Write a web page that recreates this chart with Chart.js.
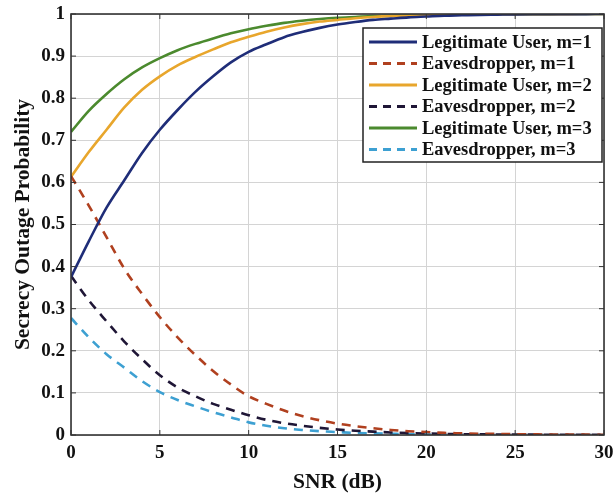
<!DOCTYPE html>
<html>
<head>
<meta charset="utf-8">
<script src="https://cdn.jsdelivr.net/npm/chart.js@4.4.1/dist/chart.umd.min.js"></script>
<style>
html,body{margin:0;padding:0;background:#fff;}
#wrap{width:613px;height:495px;}
</style>
</head>
<body>
<div id="wrap"><canvas id="c" width="613" height="495"></canvas></div>
<script>
const snr = [0,1,2,3,4,5,6,7,8,9,10,11,12,13,14,15,16,17,18,19,20,21,22,23,24,25,26,27,28,29,30];
const legitM1 = [0.375,0.46,0.54,0.605,0.67,0.725,0.772,0.815,0.852,0.885,0.91,0.928,0.945,0.957,0.967,0.975,0.981,0.986,0.989,0.992,0.994,0.996,0.997,0.998,0.9985,0.999,0.9993,0.9995,0.9997,0.9998,0.9999];
const eveM1 = [0.615,0.545,0.47,0.395,0.335,0.28,0.232,0.19,0.152,0.12,0.092,0.074,0.058,0.045,0.035,0.027,0.021,0.016,0.012,0.009,0.007,0.005,0.004,0.003,0.0025,0.002,0.0015,0.0012,0.001,0.0008,0.0006];
const legitM2 = [0.613,0.672,0.725,0.778,0.82,0.852,0.878,0.898,0.916,0.933,0.946,0.958,0.968,0.976,0.982,0.986,0.99,0.993,0.995,0.996,0.997,0.998,0.9985,0.999,0.9993,0.9995,0.9996,0.9997,0.9998,0.9999,0.9999];
const eveM2 = [0.378,0.32,0.27,0.222,0.18,0.142,0.113,0.092,0.074,0.06,0.047,0.036,0.028,0.022,0.017,0.013,0.01,0.008,0.006,0.0045,0.0035,0.0027,0.002,0.0016,0.0012,0.001,0.0008,0.0006,0.0005,0.0004,0.0003];
const legitM3 = [0.72,0.77,0.81,0.845,0.873,0.895,0.914,0.929,0.942,0.954,0.964,0.972,0.979,0.984,0.988,0.991,0.993,0.995,0.996,0.997,0.998,0.9985,0.999,0.9993,0.9995,0.9996,0.9997,0.9998,0.9999,0.9999,1.0];
const eveM3 = [0.278,0.232,0.192,0.16,0.128,0.102,0.083,0.068,0.054,0.042,0.03,0.022,0.016,0.012,0.009,0.007,0.005,0.004,0.003,0.002,0.0015,0.0012,0.001,0.0008,0.0006,0.0005,0.0004,0.0003,0.0002,0.0002,0.0001];
const seriesLabels = ['Legitimate User, m=1','Eavesdropper, m=1','Legitimate User, m=2','Eavesdropper, m=2','Legitimate User, m=3','Eavesdropper, m=3'];
const xTitle = 'SNR (dB)';
const yTitle = 'Secrecy Outage Probability';

const FONT = '"Liberation Serif","Times New Roman",serif';
const toXY = arr => arr.map((v,i)=>({x:snr[i], y:v}));
const styles = [
  {c:'#1f2d78', d:[]},
  {c:'#b0401f', d:[9,7]},
  {c:'#e8a62c', d:[]},
  {c:'#1f1636', d:[9,7]},
  {c:'#4b8a2e', d:[]},
  {c:'#3da0d2', d:[9,7]}
];
const allData = [legitM1, eveM1, legitM2, eveM2, legitM3, eveM3];
const datasets = allData.map((arr,i)=>({
  label: seriesLabels[i],
  data: toXY(arr),
  borderColor: styles[i].c,
  backgroundColor: styles[i].c,
  borderDash: styles[i].d,
  borderWidth: 2.6,
  pointRadius: 0,
  fill: false,
  tension: 0,
  cubicInterpolationMode: 'monotone'
}));

const framePlugin = {
  id: 'frame',
  afterDatasetsDraw(chart){
    const {ctx, chartArea:a} = chart;
    ctx.save();
    ctx.strokeStyle = '#333';
    ctx.lineWidth = 1.6;
    ctx.strokeRect(a.left, a.top, a.right-a.left, a.bottom-a.top);
    ctx.lineWidth = 1;
    const ys = chart.scales.y, xs = chart.scales.x;
    for (let v=0; v<=1.0001; v+=0.1){
      const y = ys.getPixelForValue(v);
      ctx.beginPath(); ctx.moveTo(a.right, y); ctx.lineTo(a.right-5, y); ctx.stroke();
      ctx.beginPath(); ctx.moveTo(a.left, y); ctx.lineTo(a.left+5, y); ctx.stroke();
    }
    for (let v=0; v<=30; v+=5){
      const x = xs.getPixelForValue(v);
      ctx.beginPath(); ctx.moveTo(x, a.top); ctx.lineTo(x, a.top+5); ctx.stroke();
      ctx.beginPath(); ctx.moveTo(x, a.bottom); ctx.lineTo(x, a.bottom-5); ctx.stroke();
    }
    // legend
    const bx = 363, by = 28, bw = 239, bh = 134;
    ctx.fillStyle = '#fff';
    ctx.fillRect(bx, by, bw, bh);
    ctx.strokeStyle = '#222';
    ctx.lineWidth = 1.5;
    ctx.strokeRect(bx, by, bw, bh);
    ctx.font = 'bold 18.5px ' + FONT;
    ctx.textBaseline = 'middle';
    ctx.textAlign = 'left';
    chart.data.datasets.forEach((ds, i) => {
      const y = by + 14 + i*21.5;
      ctx.strokeStyle = ds.borderColor;
      ctx.lineWidth = 3;
      ctx.setLineDash(ds.borderDash && ds.borderDash.length ? [8,6] : []);
      ctx.beginPath(); ctx.moveTo(bx+6, y); ctx.lineTo(bx+54, y); ctx.stroke();
      ctx.setLineDash([]);
      ctx.fillStyle = '#111';
      ctx.fillText(ds.label, bx+59, y+1);
    });
    ctx.restore();
  }
};

new Chart(document.getElementById('c'), {
  type: 'line',
  data: { datasets },
  options: {
    responsive: false,
    animation: false,
    layout: { padding: { left: 0, right: 9, top: 14, bottom: 0 } },
    plugins: { legend: { display: false }, tooltip: { enabled: false } },
    scales: {
      x: {
        type: 'linear', min: 0, max: 30,
        ticks: { stepSize: 5, color: '#111', font: { family: FONT, size: 19, weight: 'bold' }, padding: 7, maxRotation: 0 },
        grid: { color: '#d4d4d4', lineWidth: 1, drawTicks: false },
        border: { display: false },
        title: { display: true, text: xTitle, color: '#111', font: { family: FONT, size: 21.5, weight: 'bold' }, padding: { top: 0, bottom: 0 } },
        afterFit(s){ s.height = 60; s.paddingLeft = 0; s.paddingRight = 0; }
      },
      y: {
        min: 0, max: 1,
        ticks: { stepSize: 0.1, color: '#111', font: { family: FONT, size: 19, weight: 'bold' }, padding: 6,
                 callback: v => String(Number(v.toFixed(1))) },
        grid: { color: '#d4d4d4', lineWidth: 1, drawTicks: false },
        border: { display: false },
        title: { display: true, text: yTitle, color: '#111', font: { family: FONT, size: 21.5, weight: 'bold' }, padding: { top: 11, bottom: 4 } },
        afterFit(s){ s.width = 71; s.paddingTop = 0; s.paddingBottom = 0; }
      }
    }
  },
  plugins: [framePlugin]
});
</script>
</body>
</html>
